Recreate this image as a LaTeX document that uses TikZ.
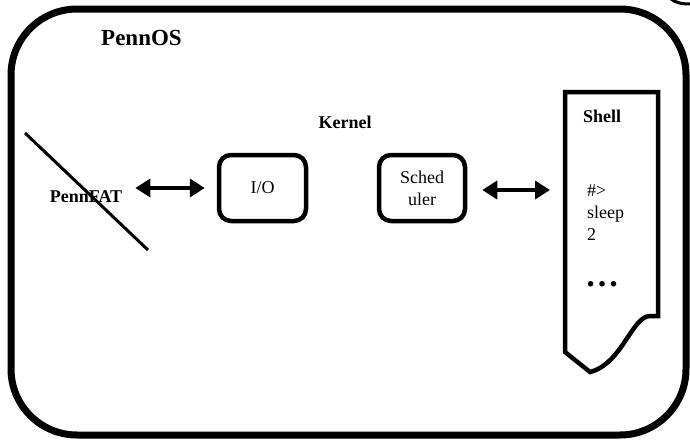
\documentclass[tikz,border=0pt]{standalone}
\usepackage{fontspec}
\setmainfont{Liberation Serif}
\usetikzlibrary{arrows.meta}
\begin{document}
\begin{tikzpicture}[x=1pt,y=-1pt,
  lbl/.style={inner sep=0pt, font=\fontsize{18}{22}\selectfont},
  blbl/.style={inner sep=0pt, font=\fontsize{18}{22}\selectfont\bfseries},
  kbox/.style={draw, line width=4.5pt, rounded corners=12pt, inner sep=0pt, align=center, font=\fontsize{18}{22}\selectfont},
  dbl/.style={line width=4pt, {Triangle[length=15pt,width=18pt]}-{Triangle[length=15pt,width=18pt]}},
]
\useasboundingbox (0,0) rectangle (690,439);
% outer frame
\draw[line width=7pt, rounded corners=66pt] (11,9) rectangle (686,435);
% fragment of another shape at the top right
\draw[line width=3pt] (671,-1) .. controls (676,3) and (682,4) .. (691,4);
% titles
\node[inner sep=0pt, font=\fontsize{23}{26}\selectfont\bfseries, anchor=base west] (pennos) at (101,45) {PennOS};
\node[blbl, anchor=base] (kernel) at (345,128) {Kernel};
% PennFAT with strike line
\node[blbl, anchor=base] (pennfat) at (86,202) {PennFAT};
\draw[line width=3pt] (25,133) -- (148,250);
% kernel boxes
\node[kbox, minimum width=87pt, minimum height=66pt] (io) at (262.5,188) {I/O};
\node[kbox, minimum width=86pt, minimum height=66pt] (sched) at (422,188) {Sched\\uler};
% shell document shape
\draw[line width=4.5pt] (565,92) -- (658,92) -- (658,316) -- (650,316)
  .. controls (632,316) and (622,364) .. (590,372) -- (565,352) -- cycle;
\coordinate (shellL) at (565,190);
\node[blbl, anchor=base west] (shell) at (583,122) {Shell};
\node[lbl, align=left, anchor=base west] (cmd) at (587,240) {\#>\\sleep\\2};
\node[inner sep=0pt, font=\fontsize{34}{34}\selectfont\bfseries, anchor=base] (dots) at (602,286) {…};
% arrows
\draw[dbl, shorten <=13pt, shorten >=12pt] (pennfat.east |- io.west) -- (io.west);
\draw[dbl, shorten <=15pt, shorten >=15pt] (sched.east |- shellL) -- (shellL);
\end{tikzpicture}
\end{document}
